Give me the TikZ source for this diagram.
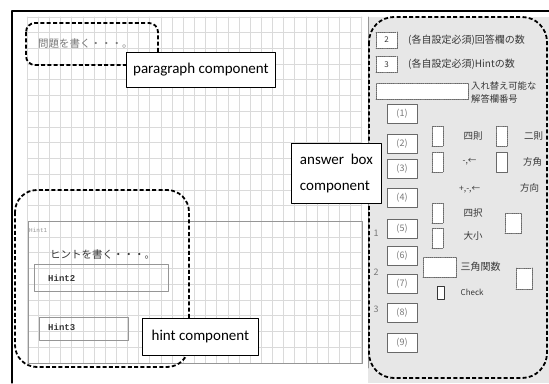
\documentclass[tikz,border=0pt]{standalone}
\usepackage{fontspec}
\usetikzlibrary{positioning}
\newfontfamily\jpfont{Noto Sans CJK JP}
\newfontfamily\lblfont{Carlito}
\newfontfamily\hintfont{Liberation Mono}
\definecolor{pane}{RGB}{231,231,231}
\definecolor{gridc}{RGB}{218,218,218}
\definecolor{txt}{RGB}{55,55,55}
\definecolor{mu}{RGB}{120,120,120}
\definecolor{boxc}{RGB}{105,105,105}
\definecolor{framec}{RGB}{150,150,150}
\tikzset{
  every picture/.style={line cap=round, line join=round},
  % Raster
  gridline/.style={gridc, line width=1pt},
  % gestrichelte Komponentengrenzen
  comp/.style={black, line width=1.8pt, line cap=butt, dash pattern=on 4pt off 2.3pt, rounded corners=#1},
  comp/.default=9pt,
  % Beschriftung der Komponenten
  lbl/.style={draw=black, line width=0.8pt, fill=white, anchor=north west, inner sep=0pt,
    font=\lblfont\fontsize{15}{26}\selectfont},
  % Texte
  jp/.style={font=\jpfont\fontsize{#1}{13}\selectfont, text=txt, inner sep=0pt},
  jp/.default=10,
  % Kästchen
  numbox/.style={draw=boxc, line width=1pt, fill=white, minimum width=30pt, minimum height=19pt,
    inner sep=0pt, text=mu, font=\jpfont\fontsize{9}{10}\selectfont},
  dotbox/.style={draw=boxc, densely dotted, line width=0.9pt, fill=white, inner sep=0pt,
    minimum width=#1, minimum height=20pt},
  dotbox/.default=11pt,
  solidbox/.style={draw=boxc, line width=0.7pt, fill=white, inner sep=0pt},
  hintbox/.style={draw=framec, line width=0.8pt, anchor=north west, inner sep=0pt},
  hinttxt/.style={font=\hintfont\bfseries\fontsize{9}{10}\selectfont, text=txt, inner sep=0pt},
}
\begin{document}
\begin{tikzpicture}[x=1pt, y=-1pt]
  \useasboundingbox (0,0) rectangle (549,383);
  \fill[white] (0,0) rectangle (549,383);
  % rechtes Feld
  \fill[pane] (368,17) rectangle (549,383);
  \draw[framec, line width=0.6pt] (368,17) -- (368,368);
  % Raster
  \foreach \i in {0,...,30}
    \draw[gridline] (27.3+\i*11.15,17) -- (27.3+\i*11.15,363);
  \foreach \j in {0,...,22}
    \draw[gridline] (27.3,17+\j*15.73) -- (361.8,17+\j*15.73);
  % Rahmen
  \draw[line width=1.2pt] (12,383) -- (12,11) -- (549,11);
  \draw[framec, line width=0.8pt] (28,221) rectangle (362,363);

  % Absatz
  \node[jp=10.5, text=mu, anchor=west] (para) at (38,44) {問題を書く・・・。};
  \draw[comp] (26,23) rectangle (158,65);
  \node[lbl, minimum width=149pt, minimum height=35pt] (paralbl) at (126,52) {paragraph component};

  % Hinweise
  \node[font=\hintfont\fontsize{6}{7}\selectfont, text=framec, anchor=west, inner sep=0pt] (hintone) at (29,230) {Hint1};
  \node[jp=10.5, anchor=west] (hinttext) at (50,255) {ヒントを書く・・・。};
  \node[hintbox, minimum width=134pt, minimum height=27pt] (hinttwo) at (34,264) {};
  \node[hinttxt, right=14pt of hinttwo.west, anchor=west] (hinttwotxt) {Hint2};
  \node[hintbox, minimum width=89pt, minimum height=23pt] (hintthree) at (39,317) {};
  \node[hinttxt, right=9pt of hintthree.west, anchor=west, yshift=2pt] (hintthreetxt) {Hint3};
  \draw[comp=22pt] (15,190) rectangle (189,367);
  \node[lbl, minimum width=116pt, minimum height=37pt] (hintlbl) at (142,318) {hint component};

  % Antwortfelder
  \node[dotbox=21pt, minimum height=16pt, text=txt, font=\jpfont\fontsize{8}{9}\selectfont] (cnta) at (386.5,40) {2};
  \node[jp, anchor=west] (cntatxt) at (408,40) {(各自設定必須)回答欄の数};
  \node[dotbox=21pt, minimum height=16pt, text=txt, font=\jpfont\fontsize{8}{9}\selectfont] (cntb) at (386.5,64.5) {3};
  \node[jp, anchor=west] (cntbtxt) at (408,64.5) {(各自設定必須)Hintの数};
  \node[dotbox=92pt, minimum height=16pt] (swap) at (422,91) {};
  \node[jp=9.3, anchor=north west, align=left] (swaptxt) at (471,81) {入れ替え可能な\\解答欄番号};
  \foreach \n/\y in {1/114,2/143.5,3/169,4/198,5/228.5,6/255.5,7/283.5,8/313,9/343}
    \node[numbox] (num\n) at (402,\y) {(\n)};
  \foreach \n/\y in {1/233,2/272,3/309}
    \node[jp=9, text=mu] (side\n) at (376,\y) {\n};

  % Optionen
  \node[dotbox] (opta) at (437.5,136) {};
  \node[jp=9.5, right=20pt of opta] (optatxt) {四則};
  \node[dotbox] (optb) at (502,136) {};
  \node[jp=9.5, right=16pt of optb] (optbtxt) {二則};
  \node[dotbox] (optc) at (437.5,162) {};
  \node[jp=8.5, right=19pt of optc] (optctxt) {-,←};
  \node[solidbox, minimum width=11pt, minimum height=20pt] (optd) at (502,162) {};
  \node[jp=9.5, right=15pt of optd] (optdtxt) {方角};
  \node[jp=8.5, anchor=west] (opte) at (459,190) {+,-,←};
  \node[jp=9.5, anchor=west] (optf) at (520,188) {方向};
  \node[dotbox] (optg) at (437.5,213) {};
  \node[jp=9.5, right=20pt of optg] (optgtxt) {四択};
  \node[dotbox] (opth) at (437.5,238) {};
  \node[jp=9.5, right=20pt of opth, yshift=2pt] (opthtxt) {大小};
  \node[dotbox=16pt] (opti) at (513,223) {};
  \node[dotbox=33pt] (optj) at (439.5,267) {};
  \node[jp=10, right=4pt of optj] (optjtxt) {三角関数};
  \node[dotbox=16pt, minimum height=21pt] (optk) at (524,278.5) {};
  \node[solidbox, draw=txt, line width=0.9pt, minimum width=7pt, minimum height=13pt] (chk) at (440.5,292.5) {};
  \node[jp=8, right=16pt of chk] (chktxt) {Check};

  \draw[comp=25pt] (369,17) rectangle (547,378);
  \node[lbl, minimum width=90pt, minimum height=60pt, align=left, inner xsep=6pt] (anslbl) at (291,143) {answer\ \ box\\component};
\end{tikzpicture}
\end{document}
